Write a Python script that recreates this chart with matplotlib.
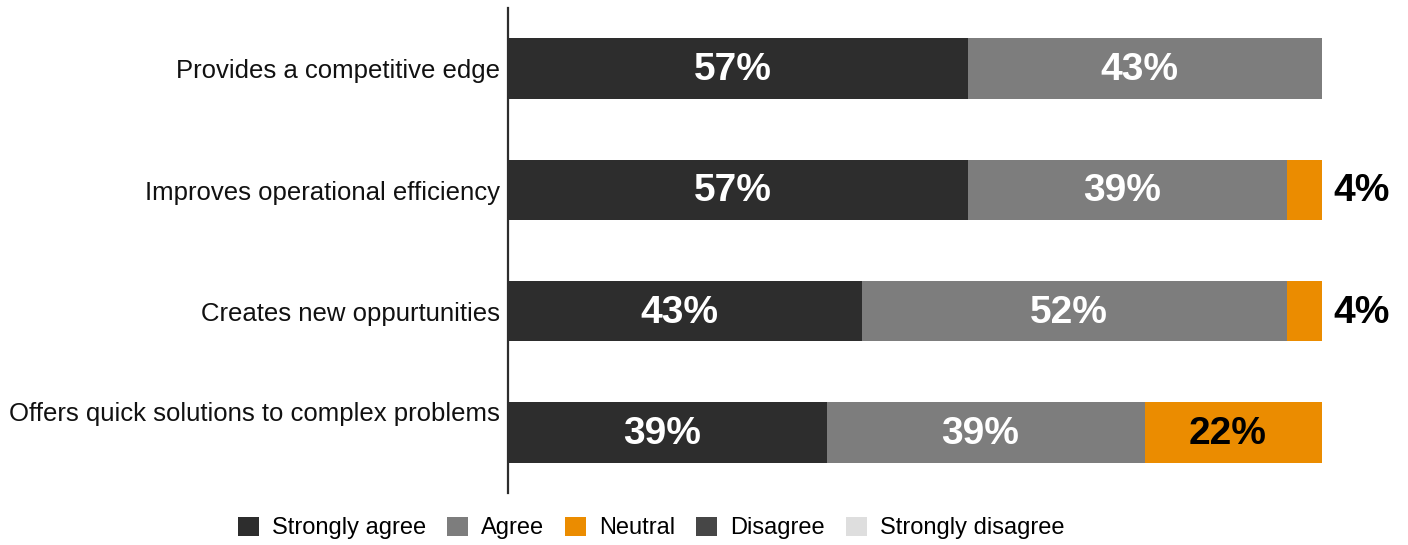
import matplotlib.pyplot as plt
from matplotlib.patches import Patch
import numpy as np

plt.rcParams['font.family'] = ['Liberation Sans', 'DejaVu Sans']

categories = ["Provides a competitive edge",
              "Improves operational efficiency",
              "Creates new oppurtunities",
              "Offers quick solutions to complex problems"]
strongly_agree = [56.52, 56.52, 43.48, 39.13]
agree = [43.48, 39.13, 52.17, 39.13]
neutral = [0.0, 4.35, 4.35, 21.74]
disagree = [0.0, 0.0, 0.0, 0.0]
strongly_disagree = [0.0, 0.0, 0.0, 0.0]

legend_labels = ["Strongly agree", "Agree", "Neutral", "Disagree", "Strongly disagree"]
colors = ["#2d2d2d", "#7d7d7d", "#eb8c00", "#464646", "#dedede"]
text_colors = ["white", "white", "black", "white", "black"]

fig = plt.figure(figsize=(14.08, 5.45), dpi=100)
ax = fig.add_axes([508/1408, 1 - 493/545, 814/1408, 485/545])

series = [strongly_agree, agree, neutral, disagree, strongly_disagree]
y = np.arange(len(categories))
left = np.zeros(len(categories))
for vals, col, tcol in zip(series, colors, text_colors):
    vals = np.array(vals)
    ax.barh(y, vals, left=left, height=0.5, color=col)
    for i, v in enumerate(vals):
        if v <= 0:
            continue
        if v < 10:
            ax.annotate(f"{v:.0f}%", (left[i] + v, y[i]), xytext=(8, -1),
                        textcoords="offset points", ha="left", va="center",
                        fontsize=28, fontweight="bold", color="black",
                        annotation_clip=False)
        else:
            ax.annotate(f"{v:.0f}%", (left[i] + v / 2, y[i]), xytext=(-4, -1),
                        textcoords="offset points", ha="center", va="center",
                        fontsize=28, fontweight="bold", color=tcol)
    left += vals

ax.set_xlim(0, 100)
ax.set_ylim(3.5, -0.5)
ax.set_xticks([])
ax.set_yticks([])
for s in ["top", "right", "bottom"]:
    ax.spines[s].set_visible(False)
ax.spines["left"].set_linewidth(1.6)
ax.spines["left"].set_color("#2d2d2d")

# category labels, the last one sits a bit higher in the original
for i, c in enumerate(categories):
    dy = 13 if i == len(categories) - 1 else -2
    ax.annotate(c, (0, y[i]), xytext=(-6, dy), textcoords="offset points",
                ha="right", va="center", fontsize=18.5, color="#111111",
                annotation_clip=False)

handles = [Patch(facecolor=c, edgecolor="none") for c in colors]
fig.legend(handles, legend_labels, loc="center", bbox_to_anchor=(651/1408, 1 - 528/545),
           ncol=5, frameon=False, fontsize=17, handlelength=0.9, handleheight=0.9,
           handletextpad=0.55, columnspacing=0.88)

fig.savefig("out.png", dpi=100)
